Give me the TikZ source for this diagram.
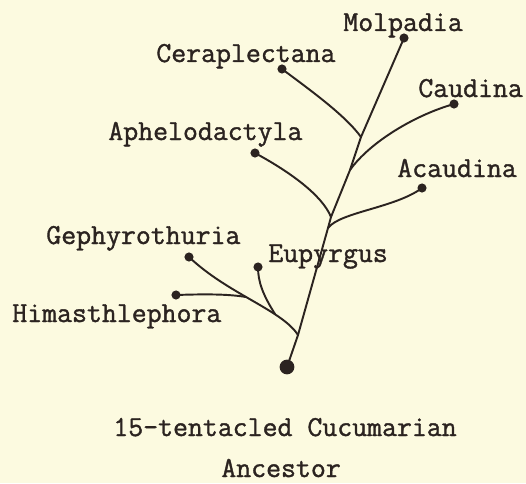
\documentclass[tikz,border=0pt]{standalone}
\usepackage{fontspec}
\newfontfamily\typer{lmmono12-regular.otf}[FakeBold=1.3]
\usetikzlibrary{calc}
\definecolor{paper}{HTML}{FCFAE0}
\definecolor{ink}{HTML}{2B2320}

\begin{document}
\begin{tikzpicture}[x=0.02cm, y=-0.02cm,
    lbl/.style={anchor=base west, inner sep=0pt, text=ink,
      font=\typer\fontsize{16.5}{18}\selectfont},
    twig/.style={draw=ink, line width=1.1pt, line cap=round}]
  \fill[paper] (0,0) rectangle (526,483);
  \useasboundingbox (0,0) rectangle (526,483);

  % stem
  \coordinate (root) at (287,367);
  \coordinate (jl) at (298,335);
  \coordinate (jacau) at (328,228);
  \coordinate (japhe) at (331,217);
  \coordinate (jcaud) at (350,170);
  \coordinate (jcera) at (361,137);
  \coordinate (molp) at (404,38);

  % tips
  \coordinate (cera) at (282,69);
  \coordinate (caud) at (454,104);
  \coordinate (aphe) at (255,153);
  \coordinate (acau) at (422,188);
  \coordinate (geph) at (189,257);
  \coordinate (eup) at (258,267);
  \coordinate (him) at (176,295);
  \coordinate (jeup) at (275,314);
  \coordinate (jhim) at (246,297);

  \node[lbl] (molpL) at (343,31) {Molpadia};
  \node[lbl] (ceraL) at (156,62) {Ceraplectana};
  \node[lbl] (caudL) at (418,97) {Caudina};
  \node[lbl] (apheL) at (108,140) {Aphelodactyla};
  \node[lbl] (acauL) at (397,177) {Acaudina};
  \node[lbl] (gephL) at (46,244) {Gephyrothuria};
  \node[lbl] (eupL) at (268,262) {Eupyrgus};
  \node[lbl] (himL) at (12,322) {Himasthlephora};
  \node[lbl] (ancL1) at (113,436) {15-tentacled Cucumarian};
  \node[lbl] (ancL2) at (221,477) {Ancestor};

  \draw[twig] (root) -- (jl) -- (jacau) -- (japhe) -- (jcaud) -- (jcera) -- (molp);
  \draw[twig] (jcera) .. controls (345,115) and (310,90) .. (cera);
  \draw[twig] (jcaud) .. controls (370,142) and (415,115) .. (caud);
  \draw[twig] (japhe) .. controls (322,195) and (290,172) .. (aphe);
  \draw[twig] (jacau) .. controls (340,212) and (395,208) .. (acau);
  \draw[twig] (jl) .. controls (282,310) and (228,294) .. (geph);
  \draw[twig] (jeup) .. controls (263,295) and (258,282) .. (eup);
  \draw[twig] (jhim) .. controls (228,294) and (205,294) .. (him);

  \fill[ink] (root) circle (4.2pt);
  \foreach \p in {molp,cera,caud,aphe,acau,geph,eup,him}
    \fill[ink] (\p) circle (2.6pt);
\end{tikzpicture}
\end{document}
